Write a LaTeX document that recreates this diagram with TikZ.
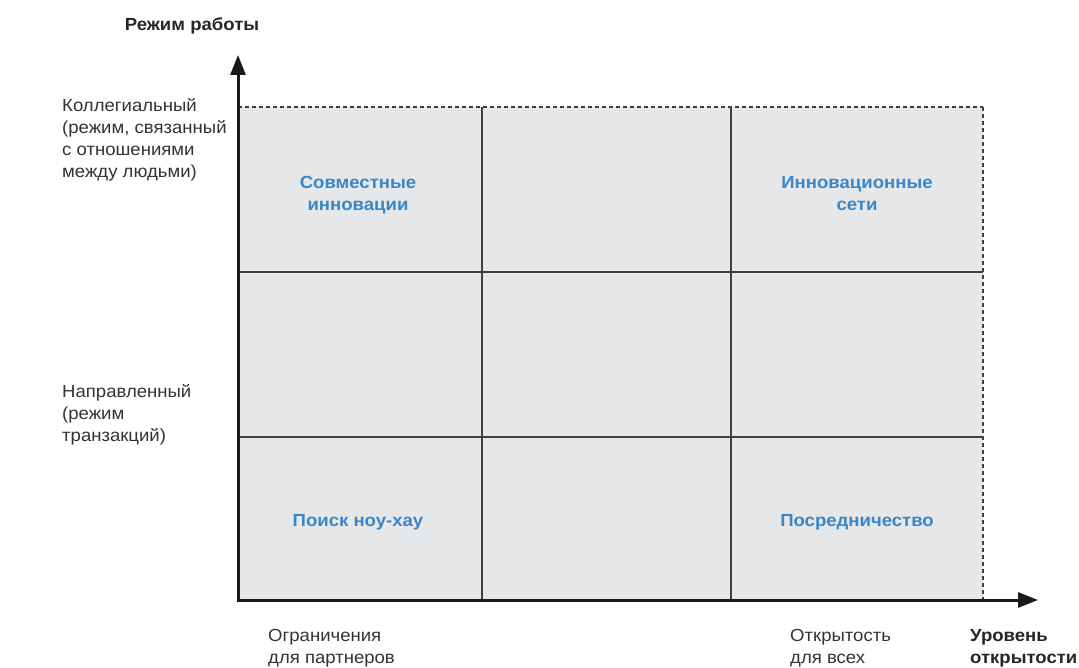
\documentclass[tikz,border=0pt]{standalone}
\usepackage{fontspec}
\setmainfont{Liberation Sans}[FakeStretch=1.06]
\usetikzlibrary{arrows.meta}
\definecolor{cellfill}{HTML}{E6E7E9}
\definecolor{gridline}{HTML}{404040}
\definecolor{labelblue}{HTML}{3A86C6}
\definecolor{txt}{HTML}{333333}
\begin{document}
\begin{tikzpicture}[x=1pt,y=-1pt,
  axislabel/.style={font=\fontsize{17.5}{22}\selectfont, text=txt, align=left, inner sep=0pt},
  axistitle/.style={font=\fontsize{17.5}{22}\selectfont\bfseries, text=black!85, align=left, inner sep=0pt},
  cellname/.style={font=\fontsize{17.5}{22}\selectfont\bfseries, text=labelblue, align=center, inner sep=0pt},
  gridl/.style={draw=gridline, line width=1.8pt},
  axis/.style={draw=black!90, line width=3pt, -{Triangle[length=20pt,width=15pt]}}
]
\useasboundingbox (0,0) rectangle (1079,668);
% cells
\fill[cellfill] (238,107) rectangle (983,600);
\coordinate (o) at (238,600);
\coordinate (ytip) at (238,55);
\coordinate (xtip) at (1038,600);
\coordinate (tl) at (238,107);
\coordinate (tr) at (983,107);
\coordinate (br) at (983,600);
% grid
\draw[gridl] (482,107) -- (482,600);
\draw[gridl] (731,107) -- (731,600);
\draw[gridl] (238,272) -- (983,272);
\draw[gridl] (238,437) -- (983,437);
% dashed border
\draw[draw=gridline, line width=1.4pt, dash pattern=on 4pt off 3pt] (tl) -- (tr);
\draw[draw=gridline, line width=2.5pt, dash pattern=on 4pt off 3pt] (tr) -- (br);
% axes
\draw[axis] (o) -- (ytip);
\draw[axis] ([xshift=-1.5pt]o) -- (xtip);
% cell labels (anchor base = last line)
\node[cellname, anchor=base] (c1) at (358,211) {Совместные\\инновации};
\node[cellname, anchor=base] (c2) at (857,211) {Инновационные\\сети};
\node[cellname, anchor=base] (c3) at (358,526) {Поиск ноу-хау};
\node[cellname, anchor=base] (c4) at (857,526) {Посредничество};
% axis titles
\node[axistitle, anchor=base] (ytitle) at (192,31) {Режим работы};
\node[axistitle, anchor=base west] (xtitle) at (970,663) {Уровень\\открытости};
% y labels
\node[axislabel, anchor=base west] (ylab1) at (62,178) {Коллегиальный\\(режим, связанный\\с отношениями\\между людьми)};
\node[axislabel, anchor=base west] (ylab2) at (62,441) {Направленный\\(режим\\транзакций)};
% x labels
\node[axislabel, anchor=base west] (xlab1) at (268,663) {Ограничения\\для партнеров};
\node[axislabel, anchor=base west] (xlab2) at (790,663) {Открытость\\для всех};
\end{tikzpicture}
\end{document}
